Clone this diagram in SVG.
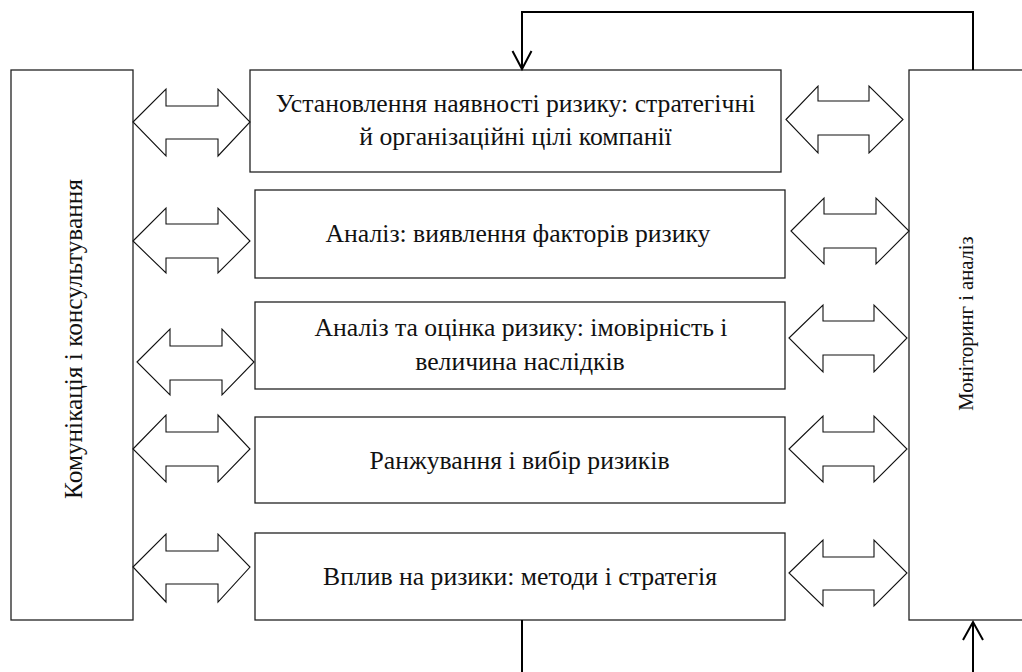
<svg xmlns="http://www.w3.org/2000/svg" width="1022" height="672" viewBox="0 0 1022 672">
<style>
.box{fill:#fff;stroke:#222;stroke-width:1.3}
.dbl{fill:#fff;stroke:#111;stroke-width:1.1;stroke-linejoin:miter}
.fb{fill:none;stroke:#000;stroke-width:2}
.t{font-family:"Liberation Serif","Times New Roman",serif;font-size:25.7px;fill:#111}
.tm{text-anchor:middle}
</style>
<rect width="1022" height="672" fill="#fff"/>
<g id="node-comm">
<rect class="box" x="11" y="70" width="122" height="550"/>
<text class="t tm" style="font-size:25.3px" transform="translate(82,339) rotate(-90)">Комунікація і консультування</text>
</g>
<g id="node-monitor">
<rect class="box" x="909" y="70" width="130" height="550"/>
<text class="t tm" style="font-size:20.6px" transform="translate(973,323.5) rotate(-90)">Моніторинг і аналіз</text>
</g>
<g id="node-1">
<rect class="box" x="250" y="70" width="531" height="102"/>
<text class="t tm" x="515.5" y="112">Установлення наявності ризику: стратегічні</text>
<text class="t tm" x="515.5" y="145">й організаційні цілі компанії</text>
</g>
<g id="node-2">
<rect class="box" x="255" y="190" width="530" height="88"/>
<text class="t tm" x="518" y="242">Аналіз: виявлення факторів ризику</text>
</g>
<g id="node-3">
<rect class="box" x="255" y="302" width="530" height="87"/>
<text class="t tm" x="521" y="336">Аналіз та оцінка ризику: імовірність і</text>
<text class="t tm" x="520" y="370">величина наслідків</text>
</g>
<g id="node-4">
<rect class="box" x="255" y="417" width="530" height="86"/>
<text class="t tm" x="519.5" y="469">Ранжування і вибір ризиків</text>
</g>
<g id="node-5">
<rect class="box" x="255" y="533" width="530" height="87"/>
<text class="t tm" x="520" y="585">Вплив на ризики: методи і стратегія</text>
</g>
<g id="connectors">
<polygon class="dbl" points="133,122 166,89 166,106 218,106 218,89 250,122 218,156 218,139 166,139 166,156"/>
<polygon class="dbl" points="133,241 166,208 166,224 218,224 218,208 250,241 218,273 218,258 166,258 166,273"/>
<polygon class="dbl" points="137,362 170,329 170,346 222,346 222,329 254,362 222,395 222,380 170,380 170,395"/>
<polygon class="dbl" points="133,449 166,415 166,432 218,432 218,415 250,449 218,482 218,466 166,466 166,482"/>
<polygon class="dbl" points="133,567 166,534 166,551 218,551 218,534 250,567 218,602 218,584 166,584 166,602"/>
<polygon class="dbl" points="786,119.5 818,86 818,101 869,101 869,86 903,119.5 869,153 869,135 818,135 818,153"/>
<polygon class="dbl" points="791,231 824,198 824,214 876,214 876,198 909,231 876,264 876,248 824,248 824,264"/>
<polygon class="dbl" points="789,338 823,305 823,321 874,321 874,305 907,338 874,372 874,355 823,355 823,372"/>
<polygon class="dbl" points="789,449 823,416 823,432 874,432 874,416 907,449 874,482 874,466 823,466 823,482"/>
<polygon class="dbl" points="789,573 823,540 823,557 874,557 874,540 907,573 874,606 874,590 823,590 823,606"/>
<path class="fb" d="M973,70 V12 H522 V69"/>
<path class="fb" d="M512.5,51 L522,69 L531.5,51"/>
<path class="fb" d="M522,620 V672"/>
<path class="fb" d="M973,672 V622"/>
<path class="fb" d="M963,640 L973,622 L983,640"/>
</g>
</svg>
